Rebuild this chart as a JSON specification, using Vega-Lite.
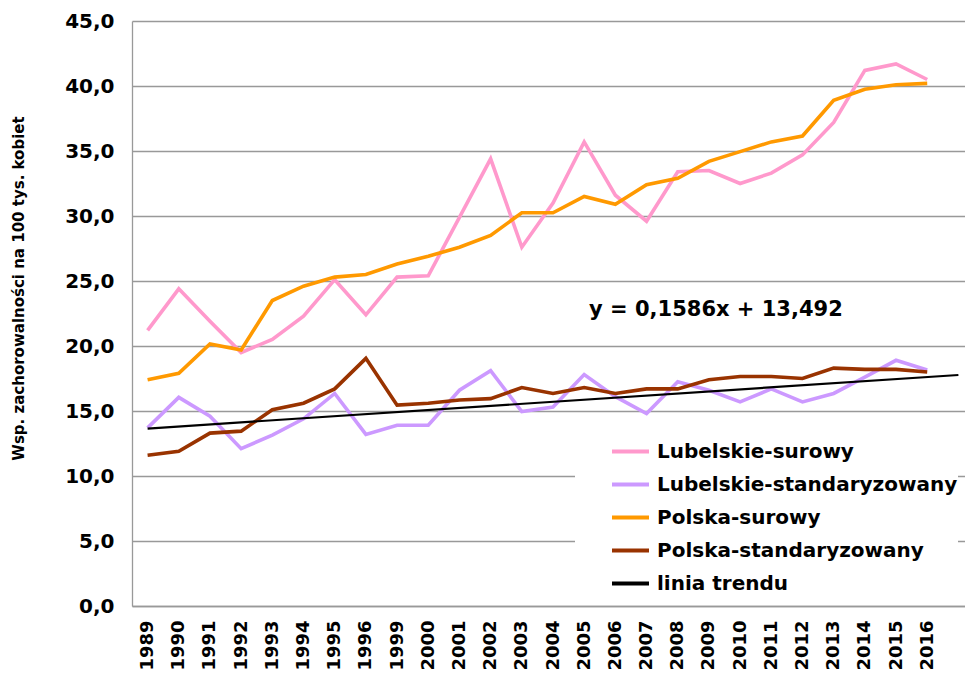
{
  "$schema": "https://vega.github.io/schema/vega-lite/v6.json",
  "width": 833,
  "height": 585,
  "autosize": {"type": "none"},
  "padding": {"left": 132, "top": 21, "right": 0, "bottom": 78},
  "background": "white",
  "config": {"view": {"stroke": null}, "font": "DejaVu Sans"},
  "data": {"values": [
    {"year":"1989","series":"Lubelskie-surowy","value":21.2},
    {"year":"1990","series":"Lubelskie-surowy","value":24.4},
    {"year":"1991","series":"Lubelskie-surowy","value":21.9},
    {"year":"1992","series":"Lubelskie-surowy","value":19.5},
    {"year":"1993","series":"Lubelskie-surowy","value":20.5},
    {"year":"1994","series":"Lubelskie-surowy","value":22.3},
    {"year":"1995","series":"Lubelskie-surowy","value":25.1},
    {"year":"1996","series":"Lubelskie-surowy","value":22.4},
    {"year":"1999","series":"Lubelskie-surowy","value":25.3},
    {"year":"2000","series":"Lubelskie-surowy","value":25.4},
    {"year":"2001","series":"Lubelskie-surowy","value":29.9},
    {"year":"2002","series":"Lubelskie-surowy","value":34.4},
    {"year":"2003","series":"Lubelskie-surowy","value":27.6},
    {"year":"2004","series":"Lubelskie-surowy","value":31.0},
    {"year":"2005","series":"Lubelskie-surowy","value":35.7},
    {"year":"2006","series":"Lubelskie-surowy","value":31.6},
    {"year":"2007","series":"Lubelskie-surowy","value":29.6},
    {"year":"2008","series":"Lubelskie-surowy","value":33.4},
    {"year":"2009","series":"Lubelskie-surowy","value":33.5},
    {"year":"2010","series":"Lubelskie-surowy","value":32.5},
    {"year":"2011","series":"Lubelskie-surowy","value":33.3},
    {"year":"2012","series":"Lubelskie-surowy","value":34.7},
    {"year":"2013","series":"Lubelskie-surowy","value":37.2},
    {"year":"2014","series":"Lubelskie-surowy","value":41.2},
    {"year":"2015","series":"Lubelskie-surowy","value":41.7},
    {"year":"2016","series":"Lubelskie-surowy","value":40.5},
    {"year":"1989","series":"Lubelskie-standaryzowany","value":13.7},
    {"year":"1990","series":"Lubelskie-standaryzowany","value":16.05},
    {"year":"1991","series":"Lubelskie-standaryzowany","value":14.6},
    {"year":"1992","series":"Lubelskie-standaryzowany","value":12.1},
    {"year":"1993","series":"Lubelskie-standaryzowany","value":13.15},
    {"year":"1994","series":"Lubelskie-standaryzowany","value":14.4},
    {"year":"1995","series":"Lubelskie-standaryzowany","value":16.35},
    {"year":"1996","series":"Lubelskie-standaryzowany","value":13.2},
    {"year":"1999","series":"Lubelskie-standaryzowany","value":13.9},
    {"year":"2000","series":"Lubelskie-standaryzowany","value":13.9},
    {"year":"2001","series":"Lubelskie-standaryzowany","value":16.6},
    {"year":"2002","series":"Lubelskie-standaryzowany","value":18.1},
    {"year":"2003","series":"Lubelskie-standaryzowany","value":14.95},
    {"year":"2004","series":"Lubelskie-standaryzowany","value":15.3},
    {"year":"2005","series":"Lubelskie-standaryzowany","value":17.8},
    {"year":"2006","series":"Lubelskie-standaryzowany","value":16.1},
    {"year":"2007","series":"Lubelskie-standaryzowany","value":14.8},
    {"year":"2008","series":"Lubelskie-standaryzowany","value":17.25},
    {"year":"2009","series":"Lubelskie-standaryzowany","value":16.6},
    {"year":"2010","series":"Lubelskie-standaryzowany","value":15.7},
    {"year":"2011","series":"Lubelskie-standaryzowany","value":16.7},
    {"year":"2012","series":"Lubelskie-standaryzowany","value":15.7},
    {"year":"2013","series":"Lubelskie-standaryzowany","value":16.35},
    {"year":"2014","series":"Lubelskie-standaryzowany","value":17.6},
    {"year":"2015","series":"Lubelskie-standaryzowany","value":18.9},
    {"year":"2016","series":"Lubelskie-standaryzowany","value":18.15},
    {"year":"1989","series":"Polska-surowy","value":17.4},
    {"year":"1990","series":"Polska-surowy","value":17.9},
    {"year":"1991","series":"Polska-surowy","value":20.15},
    {"year":"1992","series":"Polska-surowy","value":19.7},
    {"year":"1993","series":"Polska-surowy","value":23.5},
    {"year":"1994","series":"Polska-surowy","value":24.6},
    {"year":"1995","series":"Polska-surowy","value":25.3},
    {"year":"1996","series":"Polska-surowy","value":25.5},
    {"year":"1999","series":"Polska-surowy","value":26.3},
    {"year":"2000","series":"Polska-surowy","value":26.9},
    {"year":"2001","series":"Polska-surowy","value":27.6},
    {"year":"2002","series":"Polska-surowy","value":28.5},
    {"year":"2003","series":"Polska-surowy","value":30.25},
    {"year":"2004","series":"Polska-surowy","value":30.25},
    {"year":"2005","series":"Polska-surowy","value":31.5},
    {"year":"2006","series":"Polska-surowy","value":30.9},
    {"year":"2007","series":"Polska-surowy","value":32.4},
    {"year":"2008","series":"Polska-surowy","value":32.9},
    {"year":"2009","series":"Polska-surowy","value":34.2},
    {"year":"2010","series":"Polska-surowy","value":34.95},
    {"year":"2011","series":"Polska-surowy","value":35.7},
    {"year":"2012","series":"Polska-surowy","value":36.15},
    {"year":"2013","series":"Polska-surowy","value":38.9},
    {"year":"2014","series":"Polska-surowy","value":39.75},
    {"year":"2015","series":"Polska-surowy","value":40.1},
    {"year":"2016","series":"Polska-surowy","value":40.2},
    {"year":"1989","series":"Polska-standaryzowany","value":11.6},
    {"year":"1990","series":"Polska-standaryzowany","value":11.9},
    {"year":"1991","series":"Polska-standaryzowany","value":13.3},
    {"year":"1992","series":"Polska-standaryzowany","value":13.45},
    {"year":"1993","series":"Polska-standaryzowany","value":15.1},
    {"year":"1994","series":"Polska-standaryzowany","value":15.6},
    {"year":"1995","series":"Polska-standaryzowany","value":16.7},
    {"year":"1996","series":"Polska-standaryzowany","value":19.05},
    {"year":"1999","series":"Polska-standaryzowany","value":15.45},
    {"year":"2000","series":"Polska-standaryzowany","value":15.6},
    {"year":"2001","series":"Polska-standaryzowany","value":15.85},
    {"year":"2002","series":"Polska-standaryzowany","value":15.95},
    {"year":"2003","series":"Polska-standaryzowany","value":16.8},
    {"year":"2004","series":"Polska-standaryzowany","value":16.35},
    {"year":"2005","series":"Polska-standaryzowany","value":16.8},
    {"year":"2006","series":"Polska-standaryzowany","value":16.35},
    {"year":"2007","series":"Polska-standaryzowany","value":16.7},
    {"year":"2008","series":"Polska-standaryzowany","value":16.7},
    {"year":"2009","series":"Polska-standaryzowany","value":17.4},
    {"year":"2010","series":"Polska-standaryzowany","value":17.65},
    {"year":"2011","series":"Polska-standaryzowany","value":17.65},
    {"year":"2012","series":"Polska-standaryzowany","value":17.5},
    {"year":"2013","series":"Polska-standaryzowany","value":18.3},
    {"year":"2014","series":"Polska-standaryzowany","value":18.2},
    {"year":"2015","series":"Polska-standaryzowany","value":18.2},
    {"year":"2016","series":"Polska-standaryzowany","value":18.0},
    {"year":"1989","series":"linia trendu","value":13.65},
    {"year":"2017","series":"linia trendu","value":17.77}
  ]},
  "layer": [
    {
      "mark": {"type": "line", "strokeJoin": "miter"},
      "encoding": {
        "x": {
          "field": "year", "type": "ordinal",
          "scale": {"type": "point", "padding": 0.5, "range": [0, 842],
            "domain": ["1989","1990","1991","1992","1993","1994","1995","1996","1999","2000","2001","2002","2003","2004","2005","2006","2007","2008","2009","2010","2011","2012","2013","2014","2015","2016","2017"]},
          "axis": {"title": null, "labelAngle": -90, "labelAlign": "right", "labelBaseline": "middle",
            "labelFontSize": 18, "labelFontWeight": "bold", "labelColor": "black", "labelPadding": 14,
            "ticks": false, "grid": false, "domainColor": "#999999", "domainWidth": 1.3,
            "labelExpr": "datum.label == '2017' ? '' : datum.label"}
        },
        "y": {
          "field": "value", "type": "quantitative",
          "scale": {"domain": [0, 45], "nice": false, "zero": true},
          "axis": {"title": "Wsp. zachorowalności na 100 tys. kobiet",
            "values": [0,5,10,15,20,25,30,35,40,45],
            "labelExpr": "replace(format(datum.value,'.1f'),'.',',')",
            "labelFontSize": 20, "labelFontWeight": "bold", "labelColor": "black", "labelPadding": 18,
            "ticks": false, "domainColor": "#999999", "domainWidth": 1.3, "gridColor": "#999999", "gridWidth": 1.3,
            "titleFontSize": 15, "titleFontWeight": "bold", "titleColor": "black",
            "titleX": -114, "titleY": 267, "titleAlign": "center", "titleBaseline": "middle", "titleAngle": -90}
        },
        "color": {
          "field": "series", "type": "nominal",
          "scale": {"domain": ["Lubelskie-surowy","Lubelskie-standaryzowany","Polska-surowy","Polska-standaryzowany","linia trendu"],
            "range": ["#FF99CC","#CC99FF","#FF9900","#993300","#000000"]},
          "legend": {"title": null, "orient": "none", "legendX": 443, "legendY": 410,
            "fillColor": "white", "padding": 0, "symbolType": "stroke", "symbolSize": 1369,
            "symbolStrokeWidth": 4, "symbolOffset": 35, "labelFontSize": 20, "labelFontWeight": "bold",
            "labelColor": "black", "labelOffset": 6, "rowPadding": 2, "labelLimit": 400}
        },
        "strokeWidth": {"condition": {"test": "datum.series === 'linia trendu'", "value": 2.2}, "value": 3.6}
      }
    },
    {
      "data": {"values": [{"year": "2009", "value": 22.8, "label": "y = 0,1586x + 13,492"}]},
      "mark": {"type": "text", "font": "DejaVu Sans", "fontWeight": "bold", "fontSize": 21, "dx": 7, "baseline": "middle", "color": "black"},
      "encoding": {
        "x": {"field": "year", "type": "ordinal"},
        "y": {"field": "value", "type": "quantitative"},
        "text": {"field": "label"}
      }
    }
  ]
}
